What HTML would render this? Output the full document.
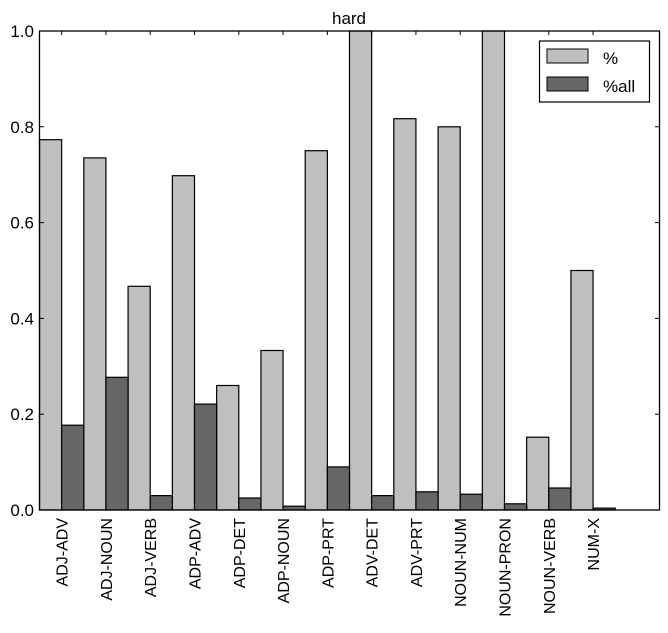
<!DOCTYPE html>
<html><head><style>body{margin:0;background:#fff}</style></head><body>
<svg width="668" height="628" xmlns="http://www.w3.org/2000/svg" font-family="Liberation Sans, sans-serif">
<rect width="668" height="628" fill="#fff"/>
<g stroke="#000" stroke-width="1.2" fill="#bfbfbf">
<rect x="39.5" y="139.7" width="22.14" height="370.3"/>
<rect x="83.79" y="157.9" width="22.14" height="352.1"/>
<rect x="128.07" y="286.3" width="22.14" height="223.7"/>
<rect x="172.36" y="175.7" width="22.14" height="334.3"/>
<rect x="216.64" y="385.5" width="22.14" height="124.5"/>
<rect x="260.93" y="350.5" width="22.14" height="159.5"/>
<rect x="305.21" y="150.7" width="22.14" height="359.3"/>
<rect x="349.5" y="31" width="22.14" height="479"/>
<rect x="393.79" y="118.7" width="22.14" height="391.3"/>
<rect x="438.07" y="126.8" width="22.14" height="383.2"/>
<rect x="482.36" y="31" width="22.14" height="479"/>
<rect x="526.64" y="437.2" width="22.14" height="72.8"/>
<rect x="570.93" y="270.5" width="22.14" height="239.5"/>
</g>
<g stroke="#000" stroke-width="1.2" fill="#666">
<rect x="61.64" y="425.2" width="22.14" height="84.8"/>
<rect x="105.93" y="377.3" width="22.14" height="132.7"/>
<rect x="150.21" y="495.6" width="22.14" height="14.4"/>
<rect x="194.5" y="404.1" width="22.14" height="105.9"/>
<rect x="238.79" y="498" width="22.14" height="12"/>
<rect x="283.07" y="506.2" width="22.14" height="3.8"/>
<rect x="327.36" y="466.9" width="22.14" height="43.1"/>
<rect x="371.64" y="495.6" width="22.14" height="14.4"/>
<rect x="415.93" y="491.8" width="22.14" height="18.2"/>
<rect x="460.21" y="494.2" width="22.14" height="15.8"/>
<rect x="504.5" y="503.8" width="22.14" height="6.2"/>
<rect x="548.79" y="488" width="22.14" height="22"/>
<rect x="593.07" y="508.1" width="22.14" height="1.9"/>
</g>
<g stroke="#000" stroke-width="1">
<path d="M61.64 31v4M105.93 31v4M150.21 31v4M194.5 31v4M238.79 31v4M283.07 31v4M327.36 31v4M371.64 31v4M415.93 31v4M460.21 31v4M504.5 31v4M548.79 31v4M593.07 31v4"/>
<path d="M39.5 510h4.5M39.5 414.2h4.5M39.5 318.4h4.5M39.5 222.6h4.5M39.5 126.8h4.5M39.5 31h4.5M659.5 510h-4.5M659.5 414.2h-4.5M659.5 318.4h-4.5M659.5 222.6h-4.5M659.5 126.8h-4.5M659.5 31h-4.5"/>
</g>
<g font-size="17" text-anchor="end">
<text x="34" y="516">0.0</text>
<text x="34" y="420.2">0.2</text>
<text x="34" y="324.4">0.4</text>
<text x="34" y="228.6">0.6</text>
<text x="34" y="132.8">0.8</text>
<text x="34" y="37">1.0</text>
</g>
<g font-size="16" text-anchor="end">
<text transform="translate(67.6,518) rotate(-90)">ADJ-ADV</text>
<text transform="translate(111.9,518) rotate(-90)">ADJ-NOUN</text>
<text transform="translate(156.2,518) rotate(-90)">ADJ-VERB</text>
<text transform="translate(200.5,518) rotate(-90)">ADP-ADV</text>
<text transform="translate(244.8,518) rotate(-90)">ADP-DET</text>
<text transform="translate(289.1,518) rotate(-90)">ADP-NOUN</text>
<text transform="translate(333.4,518) rotate(-90)">ADP-PRT</text>
<text transform="translate(377.6,518) rotate(-90)">ADV-DET</text>
<text transform="translate(421.9,518) rotate(-90)">ADV-PRT</text>
<text transform="translate(466.2,518) rotate(-90)">NOUN-NUM</text>
<text transform="translate(510.5,518) rotate(-90)">NOUN-PRON</text>
<text transform="translate(554.8,518) rotate(-90)">NOUN-VERB</text>
<text transform="translate(599.1,518) rotate(-90)">NUM-X</text>
</g>
<rect x="39.5" y="31" width="620" height="479" fill="none" stroke="#000" stroke-width="1.3"/>
<text x="349" y="24" font-size="17" text-anchor="middle">hard</text>
<rect x="539.5" y="41" width="110" height="61" fill="#fff" stroke="#000" stroke-width="1.2"/>
<rect x="547" y="49" width="41" height="14" fill="#bfbfbf" stroke="#000"/>
<rect x="547" y="77" width="41" height="14" fill="#666" stroke="#000"/>
<text x="603" y="64" font-size="17">%</text>
<text x="603" y="92" font-size="17">%all</text>
</svg>
</body></html>
